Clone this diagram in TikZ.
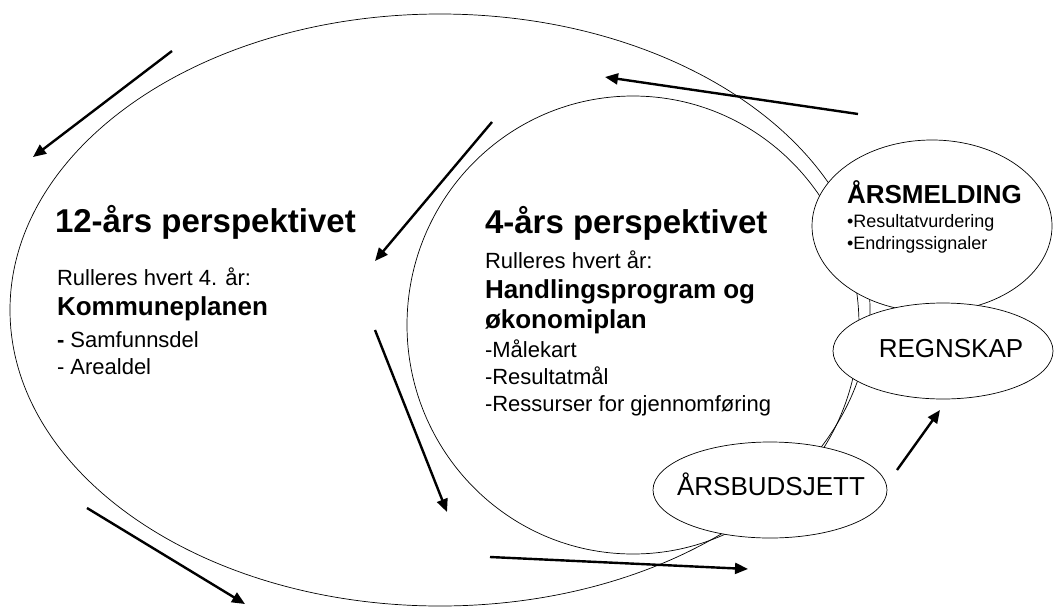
\documentclass[tikz,border=0pt]{standalone}
\usepackage{fontspec}
\setmainfont{Liberation Sans}
\usetikzlibrary{shapes.geometric,arrows.meta}
\tikzset{
  ring/.style={ellipse,draw=black,line width=0.7pt,inner sep=0pt,fill=white},
  openring/.style={ellipse,draw=black,line width=0.7pt,inner sep=0pt},
  flow/.style={line width=2.4pt,-{Triangle[length=13pt,width=11pt]}},
  txt/.style={anchor=base west,inner sep=0pt,outer sep=0pt},
  ctxt/.style={anchor=base,inner sep=0pt,outer sep=0pt},
  big/.style={font=\fontsize{33}{38}\selectfont\bfseries},
  mid/.style={font=\fontsize{26}{30}\selectfont\bfseries},
  norm/.style={font=\fontsize{22}{26}\selectfont},
  small/.style={font=\fontsize{18}{21}\selectfont},
  label/.style={font=\fontsize{26}{30}\selectfont}
}
\begin{document}
\begin{tikzpicture}[x=1pt,y=-1pt]
\useasboundingbox (0,0) rectangle (1054,608);
% ellipses
\node[openring,minimum width=860pt,minimum height=592pt] (outer) at (440,310) {};
\node[openring,minimum width=452pt,minimum height=458pt] (inner) at (633,325) {};
\node[ring,minimum width=240pt,minimum height=172pt] (melding) at (932,226) {};
\node[ring,minimum width=220pt,minimum height=96pt] (regnskap) at (943,351) {};
\node[ring,minimum width=234pt,minimum height=96pt] (budsjett) at (770,490) {};
% texts left
\node[txt,big] (t12) at (55,232) {12-års perspektivet};
\node[txt,norm] (r12) at (57,285) {Rulleres hvert 4. år:};
\node[txt,mid] (kp) at (57,315) {Kommuneplanen};
\node[txt,norm] (sd) at (57,347) {\textbf{-} Samfunnsdel};
\node[txt,norm] (ad) at (57,374) {- Arealdel};
% texts middle
\node[txt,big] (t4) at (485,233) {4-års perspektivet};
\node[txt,norm] (r4) at (485,268) {Rulleres hvert år:};
\node[txt,mid] (hp) at (485,298) {Handlingsprogram og};
\node[txt,mid] (op) at (485,328) {økonomiplan};
\node[txt,norm] (mk) at (485,357) {-Målekart};
\node[txt,norm] (rm) at (485,384) {-Resultatmål};
\node[txt,norm] (rg) at (485,411) {-Ressurser for gjennomføring};
% texts right
\node[txt,mid] (am) at (847,203) {ÅRSMELDING};
\node[txt,small] (rv) at (847,227) {•Resultatvurdering};
\node[txt,small] (es) at (847,249) {•Endringssignaler};
\node[ctxt,label] (rk) at (951,357) {REGNSKAP};
\node[ctxt,label] (bj) at (771,495) {ÅRSBUDSJETT};
% arrow end points
\coordinate (a1) at (172,51);  \coordinate (a2) at (33,157);
\coordinate (b1) at (492,122); \coordinate (b2) at (375,261);
\coordinate (c1) at (375,330); \coordinate (c2) at (447,512);
\coordinate (d1) at (87,508);  \coordinate (d2) at (245,604);
\coordinate (e1) at (490,557); \coordinate (e2) at (748,569);
\coordinate (f1) at (858,114); \coordinate (f2) at (605,77);
\coordinate (g1) at (897,470); \coordinate (g2) at (940,410);
\draw[flow] (a1) -- (a2);
\draw[flow] (b1) -- (b2);
\draw[flow] (c1) -- (c2);
\draw[flow] (d1) -- (d2);
\draw[flow] (e1) -- (e2);
\draw[flow] (f1) -- (f2);
\draw[flow] (g1) -- (g2);
\end{tikzpicture}
\end{document}
